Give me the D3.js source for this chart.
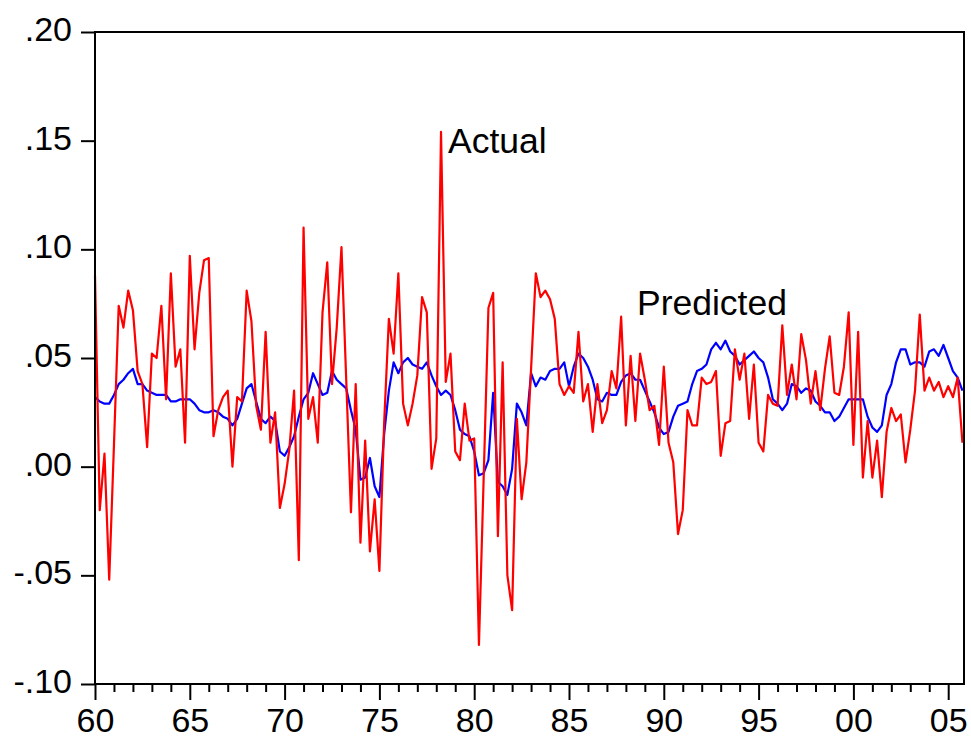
<!DOCTYPE html>
<html>
<head>
<meta charset="utf-8">
<script src="https://cdn.jsdelivr.net/npm/d3@7"></script>
<style>
  html, body { margin: 0; padding: 0; background: #fff; }
  svg { display: block; }
  text { font-family: "Liberation Sans", Arial, Helvetica, sans-serif; fill: #000; }
</style>
</head>
<body>
<svg id="chart" width="971" height="738"></svg>
<script>
// Quarterly observations, 1960Q1 .. 2005Q4
const startYear = 1960;
const periodsPerYear = 4;

const actual = [
  0.088, -0.020, 0.006, -0.052, 0.010, 0.074, 0.064, 0.081, 0.072, 0.044,
  0.038, 0.009, 0.052, 0.050, 0.074, 0.031, 0.089, 0.046, 0.054, 0.011,
  0.097, 0.054, 0.080, 0.095, 0.096, 0.014, 0.026, 0.032, 0.035, 0.000,
  0.032, 0.030, 0.081, 0.067, 0.028, 0.017, 0.062, 0.011, 0.025, -0.019,
  -0.008, 0.008, 0.035, -0.043, 0.110, 0.022, 0.032, 0.011, 0.071, 0.094,
  0.038, 0.064, 0.101, 0.040, -0.021, 0.038, -0.035, 0.012, -0.039, -0.015,
  -0.048, 0.020, 0.068, 0.052, 0.089, 0.029, 0.019, 0.029, 0.042, 0.078,
  0.071, -0.001, 0.013, 0.154, 0.039, 0.052, 0.007, 0.003, 0.029, 0.012,
  0.013, -0.082, -0.005, 0.073, 0.080, -0.032, 0.048, -0.050, -0.066, 0.022,
  -0.015, 0.002, 0.045, 0.089, 0.078, 0.081, 0.077, 0.068, 0.038, 0.033,
  0.037, 0.034, 0.062, 0.030, 0.038, 0.016, 0.038, 0.020, 0.026, 0.044,
  0.036, 0.069, 0.019, 0.051, 0.021, 0.052, 0.040, 0.026, 0.028, 0.010,
  0.046, 0.011, 0.002, -0.031, -0.020, 0.026, 0.019, 0.019, 0.041, 0.038,
  0.039, 0.044, 0.005, 0.020, 0.021, 0.054, 0.040, 0.052, 0.022, 0.047,
  0.011, 0.007, 0.033, 0.029, 0.028, 0.065, 0.033, 0.047, 0.031, 0.061,
  0.049, 0.029, 0.044, 0.026, 0.045, 0.060, 0.034, 0.033, 0.046, 0.071,
  0.010, 0.062, -0.005, 0.021, -0.005, 0.012, -0.014, 0.016, 0.027, 0.021,
  0.024, 0.002, 0.017, 0.035, 0.070, 0.035, 0.041, 0.035, 0.039, 0.032,
  0.037, 0.032, 0.041, 0.011
];

const predicted = [
  0.032, 0.030, 0.029, 0.029, 0.033, 0.038, 0.040, 0.043, 0.045, 0.038,
  0.038, 0.035, 0.034, 0.033, 0.033, 0.033, 0.030, 0.030, 0.031, 0.031,
  0.031, 0.029, 0.026, 0.025, 0.025, 0.026, 0.025, 0.023, 0.022, 0.019,
  0.022, 0.029, 0.036, 0.038, 0.030, 0.022, 0.020, 0.023, 0.021, 0.007,
  0.005, 0.009, 0.014, 0.023, 0.031, 0.034, 0.043, 0.038, 0.033, 0.034,
  0.044, 0.040, 0.038, 0.036, 0.026, 0.017, -0.006, -0.005, 0.004, -0.009,
  -0.014, 0.015, 0.035, 0.048, 0.043, 0.048, 0.050, 0.047, 0.046, 0.045,
  0.048, 0.042, 0.037, 0.033, 0.035, 0.033, 0.026, 0.017, 0.015, 0.014,
  0.007, -0.004, -0.003, 0.003, 0.034, -0.007, -0.009, -0.013, -0.001, 0.029,
  0.025, 0.019, 0.043, 0.037, 0.041, 0.040, 0.044, 0.045, 0.045, 0.048,
  0.037, 0.046, 0.052, 0.050, 0.046, 0.040, 0.031, 0.030, 0.034, 0.033,
  0.033, 0.039, 0.042, 0.043, 0.040, 0.040, 0.035, 0.030, 0.025, 0.018,
  0.015, 0.016, 0.023, 0.028, 0.029, 0.030, 0.038, 0.044, 0.045, 0.047,
  0.054, 0.057, 0.054, 0.058, 0.053, 0.051, 0.047, 0.049, 0.051, 0.053,
  0.050, 0.048, 0.041, 0.031, 0.029, 0.026, 0.029, 0.038, 0.037, 0.034,
  0.036, 0.035, 0.030, 0.028, 0.025, 0.025, 0.021, 0.023, 0.027, 0.031,
  0.031, 0.031, 0.031, 0.023, 0.018, 0.016, 0.019, 0.033, 0.038, 0.048,
  0.054, 0.054, 0.047, 0.048, 0.048, 0.046, 0.053, 0.054, 0.051, 0.056,
  0.050, 0.044, 0.041, 0.035
];

const yTicks = [-0.10, -0.05, 0.00, 0.05, 0.10, 0.15, 0.20];
const majorYears = [1960, 1965, 1970, 1975, 1980, 1985, 1990, 1995, 2000, 2005];
const seriesLabels = ["Actual", "Predicted"];

// ---------- drawing ----------
(function () {
  const svg = d3.select("#chart");
  const W = 971, H = 738;
  const mLeft = 95, mRight = 964, mTop = 32, mBottom = 684;
  const fontSize = 34;
  const labelFont = 35.5;

  svg.append("rect").attr("width", W).attr("height", H).attr("fill", "#fff");

  const nObs = actual.length;
  const t = i => startYear + i / periodsPerYear;
  const x = d3.scaleLinear()
    .domain([t(0), t(nObs - 1)])
    .range([mLeft, mLeft + (nObs - 1) * 4.74]);
  const y = d3.scaleLinear().domain([-0.10, 0.20]).range([mBottom, mTop]);

  const fmtY = d => (d < 0 ? "-" : "") + "." + String(Math.round(Math.abs(d) * 100)).padStart(2, "0");

  // Y axis
  const yAxis = d3.axisLeft(y)
    .tickValues(yTicks)
    .tickFormat(fmtY)
    .tickSizeInner(14)
    .tickSizeOuter(0)
    .tickPadding(9);
  const gy = svg.append("g").attr("transform", `translate(${mLeft},0)`).call(yAxis);
  gy.select(".domain").remove();
  gy.selectAll(".tick line").attr("stroke", "#000").attr("stroke-width", 2);
  gy.selectAll(".tick text")
    .attr("font-size", fontSize)
    .attr("font-family", "Liberation Sans, Arial, sans-serif")
    .attr("dy", "0.25em")
    .attr("fill", "#000");

  // X axis: minor yearly ticks
  const allYears = d3.range(1960, 2006);
  const xMinor = d3.axisBottom(x)
    .tickValues(allYears.filter(yr => yr % 5 !== 0))
    .tickFormat("")
    .tickSizeInner(8)
    .tickSizeOuter(0);
  const gxm = svg.append("g").attr("transform", `translate(0,${mBottom})`).call(xMinor);
  gxm.select(".domain").remove();
  gxm.selectAll(".tick line").attr("stroke", "#000").attr("stroke-width", 2);

  // X axis: major ticks with labels
  const xMajor = d3.axisBottom(x)
    .tickValues(majorYears)
    .tickFormat(yr => String(yr % 100).padStart(2, "0"))
    .tickSizeInner(16)
    .tickSizeOuter(0)
    .tickPadding(8);
  const gx = svg.append("g").attr("transform", `translate(0,${mBottom})`).call(xMajor);
  gx.select(".domain").remove();
  gx.selectAll(".tick line").attr("stroke", "#000").attr("stroke-width", 2);
  gx.selectAll(".tick text")
    .attr("font-size", fontSize)
    .attr("font-family", "Liberation Sans, Arial, sans-serif")
    .attr("fill", "#000");

  // Lines
  const line = d3.line()
    .x((d, i) => x(t(i)))
    .y(d => y(d));

  svg.append("path")
    .datum(predicted)
    .attr("fill", "none")
    .attr("stroke", "#0000FF")
    .attr("stroke-width", 2.2)
    .attr("stroke-linejoin", "round")
    .attr("d", line);

  svg.append("path")
    .datum(actual)
    .attr("fill", "none")
    .attr("stroke", "#FF0000")
    .attr("stroke-width", 2.2)
    .attr("stroke-linejoin", "round")
    .attr("d", line);

  // Frame
  svg.append("rect")
    .attr("x", mLeft).attr("y", mTop)
    .attr("width", mRight - mLeft).attr("height", mBottom - mTop)
    .attr("fill", "none").attr("stroke", "#000").attr("stroke-width", 2);

  // Series labels
  svg.append("text")
    .attr("x", 448).attr("y", 153)
    .attr("font-size", labelFont)
    .text(seriesLabels[0]);
  svg.append("text")
    .attr("x", 637).attr("y", 315)
    .attr("font-size", labelFont)
    .text(seriesLabels[1]);
})();
</script>
</body>
</html>
